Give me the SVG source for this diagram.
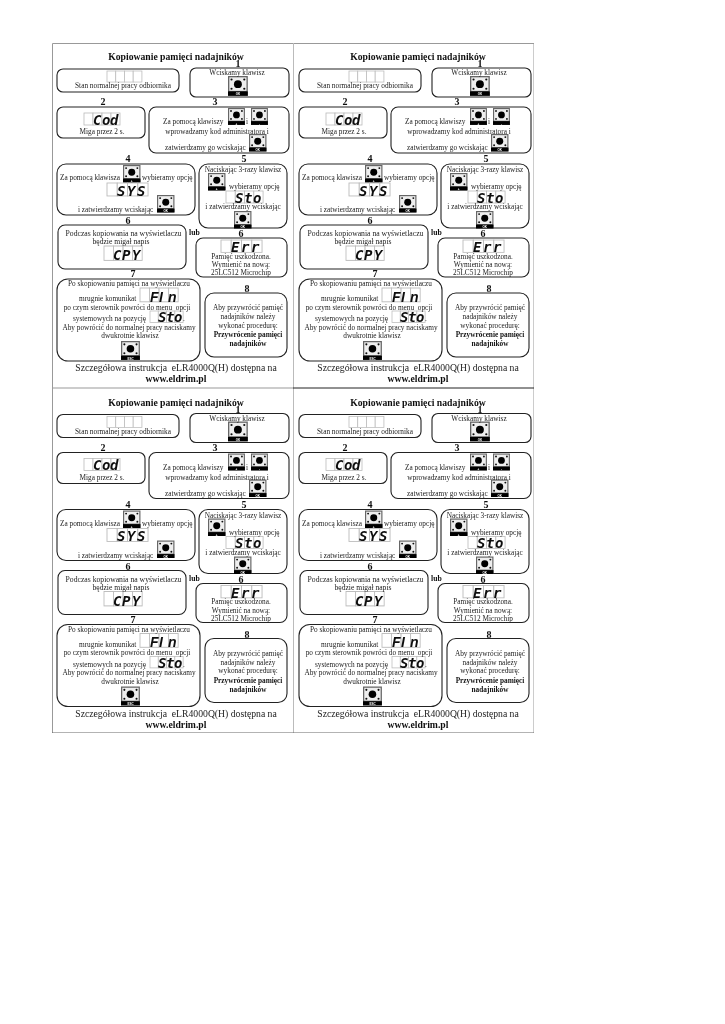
<svg xmlns="http://www.w3.org/2000/svg" width="725" height="1024" viewBox="0 0 725 1024">
<style>
text{font-family:"Liberation Serif","Times New Roman",serif;fill:#222;font-size:7.3px}
.c{text-anchor:middle}
.b{font-weight:bold;fill:#111}
.l{font-size:7.7px}
.m{font-size:7.6px}
.n{font-weight:bold;font-size:10px;fill:#111;text-anchor:middle}
.t{font-weight:bold;font-size:9.7px;fill:#111;text-anchor:middle}
.f{font-size:9.7px;text-anchor:middle}
.box{fill:#fff;stroke:#222;stroke-width:1.1}
.cell{fill:#fff;stroke:#bbb;stroke-width:.8}
.seg{font-family:"DejaVu Sans Mono",monospace;font-weight:bold;font-style:italic;font-size:14px;fill:#111}
.sf{font-family:"Liberation Sans",sans-serif}
.k{font-family:"Liberation Sans",sans-serif;font-weight:bold;font-size:3px;fill:#fff;text-anchor:middle}
</style>
<defs>
<filter id="soft" x="0" y="0" width="100%" height="100%"><feGaussianBlur stdDeviation=".3"/></filter>
<g id="btn"><rect width="18" height="18" fill="#666"/><rect x="1.2" y="1.2" width="15.6" height="12.3" fill="#eee"/><circle cx="9" cy="7.4" r="3.6" fill="#000"/><g fill="#111"><circle cx="3.2" cy="3.2" r="1"/><circle cx="14.8" cy="3.2" r="1"/><circle cx="3.2" cy="11.6" r="1"/><circle cx="14.8" cy="11.6" r="1"/></g><rect x="0" y="14" width="18" height="4" fill="#000"/></g>
<g id="lcd"><rect class="cell" x="0" y="0" width="9" height="12"/><rect class="cell" x="9" y="0" width="9" height="12"/><rect class="cell" x="18" y="0" width="9" height="12"/><rect class="cell" x="27" y="0" width="9" height="12"/></g>
<g id="shapes">
<rect class="box" x="57" y="69" width="122" height="23" rx="6"/>
<rect class="box" x="190" y="68" width="99" height="29" rx="6"/>
<rect class="box" x="57" y="107" width="88" height="31" rx="6"/>
<rect class="box" x="149" y="107" width="140" height="46" rx="7"/>
<rect class="box" x="57" y="164" width="138" height="51" rx="9"/>
<rect class="box" x="199" y="164" width="88" height="64" rx="9"/>
<rect class="box" x="58" y="225" width="128" height="44" rx="7"/>
<rect class="box" x="196" y="238" width="91" height="39" rx="7"/>
<rect class="box" x="57" y="279" width="143" height="82" rx="11"/>
<rect class="box" x="205" y="293" width="82" height="64" rx="9"/>
<use href="#lcd" transform="translate(107 71) scale(.97 .92)"/>
<use href="#btn" transform="translate(228 76) scale(1.1)"/>
<use href="#lcd" transform="translate(84 113)"/>
<use href="#btn" transform="translate(228 108) scale(.94)"/>
<use href="#btn" transform="translate(251 108) scale(.94)"/>
<use href="#btn" transform="translate(249 134) scale(.97)"/>
<use href="#btn" transform="translate(123 165) scale(.97)"/>
<use href="#lcd" transform="translate(107 183) scale(1.14 1.08)"/>
<use href="#btn" transform="translate(157 195) scale(.97)"/>
<use href="#btn" transform="translate(208 173) scale(.97)"/>
<use href="#lcd" transform="translate(226 191) scale(1.03 1)"/>
<use href="#btn" transform="translate(234 211) scale(.97)"/>
<use href="#lcd" transform="translate(104 246) scale(1.06 1.2)"/>
<use href="#lcd" transform="translate(221 240) scale(1.14 1.03)"/>
<use href="#lcd" transform="translate(140 288) scale(1.06 1.15)"/>
<use href="#lcd" transform="translate(150 311) scale(.92 .95)"/>
<use href="#btn" transform="translate(121 341) scale(1.05)"/>
</g>
</defs>
<rect width="725" height="1024" fill="#fff"/>
<g filter="url(#soft)">
<g id="frame" fill="none"><path d="M52.5 733V43.5H534V733" stroke="#999" stroke-width="1"/><path d="M293.5 43V733" stroke="#bbb"/><path d="M52 388H293" stroke="#999"/><path d="M293 388H534" stroke="#222"/><path d="M52 733H534" stroke="#666"/></g>

<g id="panel-1">
<use href="#shapes"/>
<text class="t" x="176" y="60">Kopiowanie pamięci nadajników</text>
<text class="n" x="238" y="67">1</text><text class="n" x="103" y="105">2</text><text class="n" x="215" y="105">3</text><text class="n" x="128" y="162">4</text><text class="n" x="244" y="162">5</text><text class="n" x="128" y="224">6</text><text class="n" x="241" y="237">6</text><text class="n" x="133" y="277">7</text><text class="n" x="247" y="292">8</text>
<text class="c" x="123" y="88">Stan normalnej pracy odbiornika</text>
<text class="c" x="237" y="75">Wciskamy klawisz</text><text class="k" x="238" y="95">OK</text>
<text class="seg" x="93 102 110" y="124.5">Cod</text>
<text class="c" x="102" y="134">Miga przez 2 s.</text>
<text x="163" y="124">Za pomocą klawiszy</text><text x="246" y="124">i</text><text class="k" x="236.5" y="124.5">+</text><text class="k" x="259.5" y="124.5">-</text>
<text class="c" x="217" y="134">wprowadzamy kod administratora i</text>
<text x="165" y="150">zatwierdzamy go wciskając</text><text class="k" x="257.7" y="151">OK</text>
<text x="60" y="180">Za pomocą klawisza</text><text x="142" y="180">wybieramy opcję</text><text class="k" x="131.7" y="182">+</text>
<text class="seg" x="117 127 137" y="195.5">SYS</text>
<text x="78" y="212">i zatwierdzamy wciskając</text><text class="k" x="165.7" y="212">OK</text>
<text class="c" x="243" y="172">Naciskając 3-razy klawisz</text><text class="k" x="216.7" y="190">+</text>
<text x="229" y="189">wybieramy opcję</text>
<text class="seg" x="235 244 253" y="202.5">Sto</text>
<text class="c" x="243" y="209">i zatwierdzamy wciskając</text><text class="k" x="242.7" y="228">OK</text>
<text class="c l" x="123.5" y="236">Podczas kopiowania na wyświetlaczu</text>
<text class="c m" x="121" y="244">będzie migał napis</text>
<text class="seg" x="113 122 132" y="260">CPY</text>
<text class="b l" x="189" y="235">lub</text>
<text class="seg" x="231 241 251" y="252">Err</text>
<text class="c" x="241" y="258.5">Pamięć uszkodzona.</text>
<text class="c" x="241" y="267">Wymienić na nową:</text>
<text class="c" x="241" y="275">25LC512 Microchip</text>
<text class="c" x="129" y="286">Po skopiowaniu pamięci na wyświetlaczu</text>
<text x="79" y="301">mrugnie komunikat</text>
<text class="seg sf" x="150 159 166 168" y="301.5">FI n</text>
<text class="c" x="127" y="309.5">po czym sterownik powróci do menu&#160; opcji</text>
<text x="73" y="321">systemowych na pozycję</text>
<text class="seg" x="158 166 174" y="322">Sto</text><text x="183" y="321">.</text>
<text class="c" x="129" y="329.5">Aby powrócić do normalnej pracy naciskamy</text>
<text class="c" x="130" y="338">dwukrotnie klawisz</text><text class="k" x="130.5" y="359.5">ESC</text>
<text class="c" x="248" y="310">Aby przywrócić pamięć</text>
<text class="c" x="248" y="319">nadajników należy</text>
<text class="c" x="248" y="327.5">wykonać procedurę:</text>
<text class="c b" x="248" y="337">Przywrócenie pamięci</text>
<text class="c b" x="248" y="346">nadajników</text>
<text class="f" x="176" y="371">Szczegółowa instrukcja&#160; eLR4000Q(H) dostępna na</text>
<text class="t" x="176" y="382">www.eldrim.pl</text>
</g>

<g id="panel-2" transform="translate(242 0)">
<use href="#shapes"/>
<text class="t" x="176" y="60">Kopiowanie pamięci nadajników</text>
<text class="n" x="238" y="67">1</text><text class="n" x="103" y="105">2</text><text class="n" x="215" y="105">3</text><text class="n" x="128" y="162">4</text><text class="n" x="244" y="162">5</text><text class="n" x="128" y="224">6</text><text class="n" x="241" y="237">6</text><text class="n" x="133" y="277">7</text><text class="n" x="247" y="292">8</text>
<text class="c" x="123" y="88">Stan normalnej pracy odbiornika</text>
<text class="c" x="237" y="75">Wciskamy klawisz</text><text class="k" x="238" y="95">OK</text>
<text class="seg" x="93 102 110" y="124.5">Cod</text>
<text class="c" x="102" y="134">Miga przez 2 s.</text>
<text x="163" y="124">Za pomocą klawiszy</text><text x="246" y="124">i</text><text class="k" x="236.5" y="124.5">+</text><text class="k" x="259.5" y="124.5">-</text>
<text class="c" x="217" y="134">wprowadzamy kod administratora i</text>
<text x="165" y="150">zatwierdzamy go wciskając</text><text class="k" x="257.7" y="151">OK</text>
<text x="60" y="180">Za pomocą klawisza</text><text x="142" y="180">wybieramy opcję</text><text class="k" x="131.7" y="182">+</text>
<text class="seg" x="117 127 137" y="195.5">SYS</text>
<text x="78" y="212">i zatwierdzamy wciskając</text><text class="k" x="165.7" y="212">OK</text>
<text class="c" x="243" y="172">Naciskając 3-razy klawisz</text><text class="k" x="216.7" y="190">+</text>
<text x="229" y="189">wybieramy opcję</text>
<text class="seg" x="235 244 253" y="202.5">Sto</text>
<text class="c" x="243" y="209">i zatwierdzamy wciskając</text><text class="k" x="242.7" y="228">OK</text>
<text class="c l" x="123.5" y="236">Podczas kopiowania na wyświetlaczu</text>
<text class="c m" x="121" y="244">będzie migał napis</text>
<text class="seg" x="113 122 132" y="260">CPY</text>
<text class="b l" x="189" y="235">lub</text>
<text class="seg" x="231 241 251" y="252">Err</text>
<text class="c" x="241" y="258.5">Pamięć uszkodzona.</text>
<text class="c" x="241" y="267">Wymienić na nową:</text>
<text class="c" x="241" y="275">25LC512 Microchip</text>
<text class="c" x="129" y="286">Po skopiowaniu pamięci na wyświetlaczu</text>
<text x="79" y="301">mrugnie komunikat</text>
<text class="seg sf" x="150 159 166 168" y="301.5">FI n</text>
<text class="c" x="127" y="309.5">po czym sterownik powróci do menu&#160; opcji</text>
<text x="73" y="321">systemowych na pozycję</text>
<text class="seg" x="158 166 174" y="322">Sto</text><text x="183" y="321">.</text>
<text class="c" x="129" y="329.5">Aby powrócić do normalnej pracy naciskamy</text>
<text class="c" x="130" y="338">dwukrotnie klawisz</text><text class="k" x="130.5" y="359.5">ESC</text>
<text class="c" x="248" y="310">Aby przywrócić pamięć</text>
<text class="c" x="248" y="319">nadajników należy</text>
<text class="c" x="248" y="327.5">wykonać procedurę:</text>
<text class="c b" x="248" y="337">Przywrócenie pamięci</text>
<text class="c b" x="248" y="346">nadajników</text>
<text class="f" x="176" y="371">Szczegółowa instrukcja&#160; eLR4000Q(H) dostępna na</text>
<text class="t" x="176" y="382">www.eldrim.pl</text>
</g>

<g id="panel-3" transform="translate(0 345.5)">
<use href="#shapes"/>
<text class="t" x="176" y="60">Kopiowanie pamięci nadajników</text>
<text class="n" x="238" y="67">1</text><text class="n" x="103" y="105">2</text><text class="n" x="215" y="105">3</text><text class="n" x="128" y="162">4</text><text class="n" x="244" y="162">5</text><text class="n" x="128" y="224">6</text><text class="n" x="241" y="237">6</text><text class="n" x="133" y="277">7</text><text class="n" x="247" y="292">8</text>
<text class="c" x="123" y="88">Stan normalnej pracy odbiornika</text>
<text class="c" x="237" y="75">Wciskamy klawisz</text><text class="k" x="238" y="95">OK</text>
<text class="seg" x="93 102 110" y="124.5">Cod</text>
<text class="c" x="102" y="134">Miga przez 2 s.</text>
<text x="163" y="124">Za pomocą klawiszy</text><text x="246" y="124">i</text><text class="k" x="236.5" y="124.5">+</text><text class="k" x="259.5" y="124.5">-</text>
<text class="c" x="217" y="134">wprowadzamy kod administratora i</text>
<text x="165" y="150">zatwierdzamy go wciskając</text><text class="k" x="257.7" y="151">OK</text>
<text x="60" y="180">Za pomocą klawisza</text><text x="142" y="180">wybieramy opcję</text><text class="k" x="131.7" y="182">+</text>
<text class="seg" x="117 127 137" y="195.5">SYS</text>
<text x="78" y="212">i zatwierdzamy wciskając</text><text class="k" x="165.7" y="212">OK</text>
<text class="c" x="243" y="172">Naciskając 3-razy klawisz</text><text class="k" x="216.7" y="190">+</text>
<text x="229" y="189">wybieramy opcję</text>
<text class="seg" x="235 244 253" y="202.5">Sto</text>
<text class="c" x="243" y="209">i zatwierdzamy wciskając</text><text class="k" x="242.7" y="228">OK</text>
<text class="c l" x="123.5" y="236">Podczas kopiowania na wyświetlaczu</text>
<text class="c m" x="121" y="244">będzie migał napis</text>
<text class="seg" x="113 122 132" y="260">CPY</text>
<text class="b l" x="189" y="235">lub</text>
<text class="seg" x="231 241 251" y="252">Err</text>
<text class="c" x="241" y="258.5">Pamięć uszkodzona.</text>
<text class="c" x="241" y="267">Wymienić na nową:</text>
<text class="c" x="241" y="275">25LC512 Microchip</text>
<text class="c" x="129" y="286">Po skopiowaniu pamięci na wyświetlaczu</text>
<text x="79" y="301">mrugnie komunikat</text>
<text class="seg sf" x="150 159 166 168" y="301.5">FI n</text>
<text class="c" x="127" y="309.5">po czym sterownik powróci do menu&#160; opcji</text>
<text x="73" y="321">systemowych na pozycję</text>
<text class="seg" x="158 166 174" y="322">Sto</text><text x="183" y="321">.</text>
<text class="c" x="129" y="329.5">Aby powrócić do normalnej pracy naciskamy</text>
<text class="c" x="130" y="338">dwukrotnie klawisz</text><text class="k" x="130.5" y="359.5">ESC</text>
<text class="c" x="248" y="310">Aby przywrócić pamięć</text>
<text class="c" x="248" y="319">nadajników należy</text>
<text class="c" x="248" y="327.5">wykonać procedurę:</text>
<text class="c b" x="248" y="337">Przywrócenie pamięci</text>
<text class="c b" x="248" y="346">nadajników</text>
<text class="f" x="176" y="371">Szczegółowa instrukcja&#160; eLR4000Q(H) dostępna na</text>
<text class="t" x="176" y="382">www.eldrim.pl</text>
</g>

<g id="panel-4" transform="translate(242 345.5)">
<use href="#shapes"/>
<text class="t" x="176" y="60">Kopiowanie pamięci nadajników</text>
<text class="n" x="238" y="67">1</text><text class="n" x="103" y="105">2</text><text class="n" x="215" y="105">3</text><text class="n" x="128" y="162">4</text><text class="n" x="244" y="162">5</text><text class="n" x="128" y="224">6</text><text class="n" x="241" y="237">6</text><text class="n" x="133" y="277">7</text><text class="n" x="247" y="292">8</text>
<text class="c" x="123" y="88">Stan normalnej pracy odbiornika</text>
<text class="c" x="237" y="75">Wciskamy klawisz</text><text class="k" x="238" y="95">OK</text>
<text class="seg" x="93 102 110" y="124.5">Cod</text>
<text class="c" x="102" y="134">Miga przez 2 s.</text>
<text x="163" y="124">Za pomocą klawiszy</text><text x="246" y="124">i</text><text class="k" x="236.5" y="124.5">+</text><text class="k" x="259.5" y="124.5">-</text>
<text class="c" x="217" y="134">wprowadzamy kod administratora i</text>
<text x="165" y="150">zatwierdzamy go wciskając</text><text class="k" x="257.7" y="151">OK</text>
<text x="60" y="180">Za pomocą klawisza</text><text x="142" y="180">wybieramy opcję</text><text class="k" x="131.7" y="182">+</text>
<text class="seg" x="117 127 137" y="195.5">SYS</text>
<text x="78" y="212">i zatwierdzamy wciskając</text><text class="k" x="165.7" y="212">OK</text>
<text class="c" x="243" y="172">Naciskając 3-razy klawisz</text><text class="k" x="216.7" y="190">+</text>
<text x="229" y="189">wybieramy opcję</text>
<text class="seg" x="235 244 253" y="202.5">Sto</text>
<text class="c" x="243" y="209">i zatwierdzamy wciskając</text><text class="k" x="242.7" y="228">OK</text>
<text class="c l" x="123.5" y="236">Podczas kopiowania na wyświetlaczu</text>
<text class="c m" x="121" y="244">będzie migał napis</text>
<text class="seg" x="113 122 132" y="260">CPY</text>
<text class="b l" x="189" y="235">lub</text>
<text class="seg" x="231 241 251" y="252">Err</text>
<text class="c" x="241" y="258.5">Pamięć uszkodzona.</text>
<text class="c" x="241" y="267">Wymienić na nową:</text>
<text class="c" x="241" y="275">25LC512 Microchip</text>
<text class="c" x="129" y="286">Po skopiowaniu pamięci na wyświetlaczu</text>
<text x="79" y="301">mrugnie komunikat</text>
<text class="seg sf" x="150 159 166 168" y="301.5">FI n</text>
<text class="c" x="127" y="309.5">po czym sterownik powróci do menu&#160; opcji</text>
<text x="73" y="321">systemowych na pozycję</text>
<text class="seg" x="158 166 174" y="322">Sto</text><text x="183" y="321">.</text>
<text class="c" x="129" y="329.5">Aby powrócić do normalnej pracy naciskamy</text>
<text class="c" x="130" y="338">dwukrotnie klawisz</text><text class="k" x="130.5" y="359.5">ESC</text>
<text class="c" x="248" y="310">Aby przywrócić pamięć</text>
<text class="c" x="248" y="319">nadajników należy</text>
<text class="c" x="248" y="327.5">wykonać procedurę:</text>
<text class="c b" x="248" y="337">Przywrócenie pamięci</text>
<text class="c b" x="248" y="346">nadajników</text>
<text class="f" x="176" y="371">Szczegółowa instrukcja&#160; eLR4000Q(H) dostępna na</text>
<text class="t" x="176" y="382">www.eldrim.pl</text>
</g>
</g>
</svg>
